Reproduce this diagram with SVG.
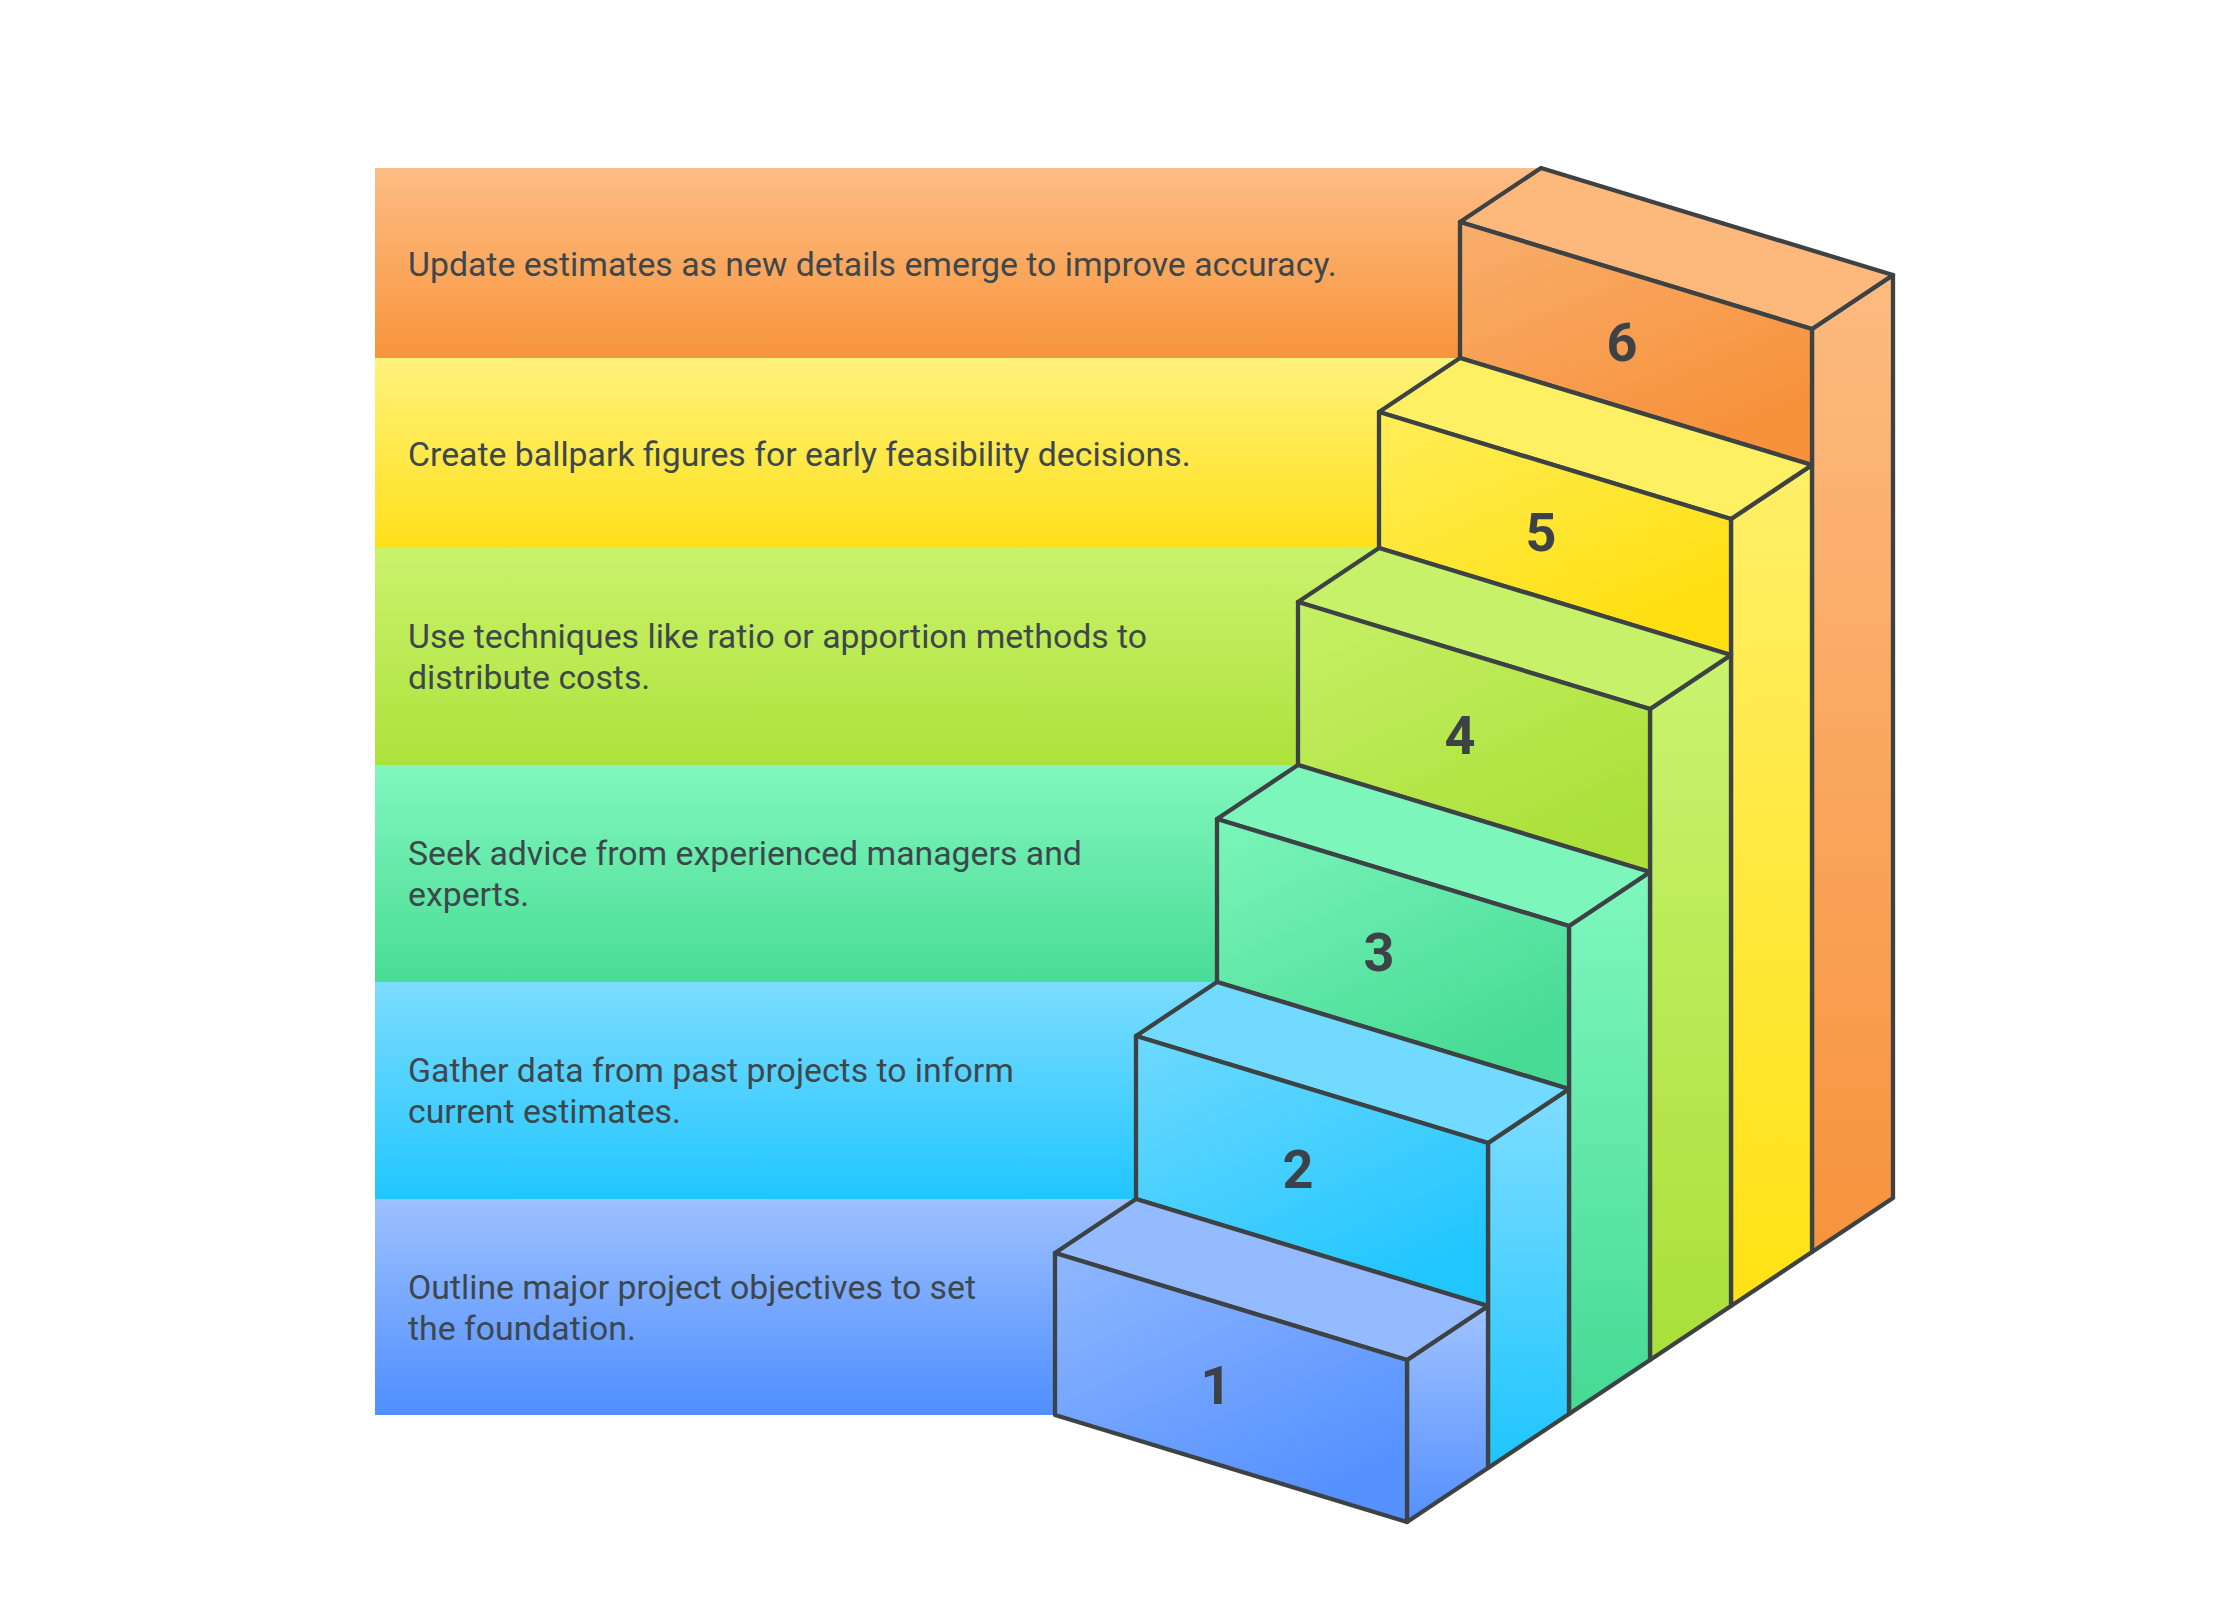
<svg xmlns="http://www.w3.org/2000/svg" width="2223" height="1620" viewBox="0 0 2223 1620">
<style>
.lbl{font-family:Roboto,"Liberation Sans",Arial,sans-serif;font-size:33.8px;fill:#3e474b}
.num{font-family:Roboto,"Liberation Sans",Arial,sans-serif;font-size:54px;font-weight:700;fill:#3d4246;text-anchor:middle}
.edge{stroke:#3d4244;stroke-width:4.3;stroke-linejoin:round}
</style>
<defs>
<linearGradient id="b6" x1="0" y1="0" x2="0" y2="1"><stop offset="0" stop-color="#fdbd84"/><stop offset="1" stop-color="#f7943c"/></linearGradient>
<linearGradient id="b5" x1="0" y1="0" x2="0" y2="1"><stop offset="0" stop-color="#fff27c"/><stop offset="1" stop-color="#ffe01a"/></linearGradient>
<linearGradient id="b4" x1="0" y1="0" x2="0" y2="1"><stop offset="0" stop-color="#caf26c"/><stop offset="1" stop-color="#ade23c"/></linearGradient>
<linearGradient id="b3" x1="0" y1="0" x2="0" y2="1"><stop offset="0" stop-color="#80f7bd"/><stop offset="1" stop-color="#49dc96"/></linearGradient>
<linearGradient id="b2" x1="0" y1="0" x2="0" y2="1"><stop offset="0" stop-color="#7cdcff"/><stop offset="1" stop-color="#20c6ff"/></linearGradient>
<linearGradient id="b1" x1="0" y1="0" x2="0" y2="1"><stop offset="0" stop-color="#9dc0ff"/><stop offset="1" stop-color="#4f8fff"/></linearGradient>

<linearGradient id="f6" x1="0" y1="0" x2="0.6" y2="1"><stop offset="0" stop-color="#f9ae6c"/><stop offset="1" stop-color="#f7913a"/></linearGradient>
<linearGradient id="f5" x1="0" y1="0" x2="0.6" y2="1"><stop offset="0" stop-color="#ffee58"/><stop offset="1" stop-color="#ffdf10"/></linearGradient>
<linearGradient id="f4" x1="0" y1="0" x2="0.6" y2="1"><stop offset="0" stop-color="#c6f066"/><stop offset="1" stop-color="#abe13a"/></linearGradient>
<linearGradient id="f3" x1="0" y1="0" x2="0.6" y2="1"><stop offset="0" stop-color="#7cf5bb"/><stop offset="1" stop-color="#47db95"/></linearGradient>
<linearGradient id="f2" x1="0" y1="0" x2="0.6" y2="1"><stop offset="0" stop-color="#6ed9ff"/><stop offset="1" stop-color="#22c6ff"/></linearGradient>
<linearGradient id="f1" x1="0" y1="0" x2="0.6" y2="1"><stop offset="0" stop-color="#8fb7ff"/><stop offset="1" stop-color="#5591ff"/></linearGradient>

<linearGradient id="s6" x1="0" y1="0" x2="0" y2="1"><stop offset="0" stop-color="#fdbb80"/><stop offset="1" stop-color="#f7933d"/></linearGradient>
<linearGradient id="s5" x1="0" y1="0" x2="0" y2="1"><stop offset="0" stop-color="#ffef68"/><stop offset="1" stop-color="#ffe214"/></linearGradient>
<linearGradient id="s4" x1="0" y1="0" x2="0" y2="1"><stop offset="0" stop-color="#c9f36e"/><stop offset="1" stop-color="#a9e03a"/></linearGradient>
<linearGradient id="s3" x1="0" y1="0" x2="0" y2="1"><stop offset="0" stop-color="#7ff7bf"/><stop offset="1" stop-color="#45da94"/></linearGradient>
<linearGradient id="s2" x1="0" y1="0" x2="0" y2="1"><stop offset="0" stop-color="#7fddff"/><stop offset="1" stop-color="#1ec5ff"/></linearGradient>
<linearGradient id="s1" x1="0" y1="0" x2="0" y2="1"><stop offset="0" stop-color="#a0c2ff"/><stop offset="1" stop-color="#5590ff"/></linearGradient>
</defs>
<rect width="2223" height="1620" fill="#ffffff"/>

<g id="step-6">
<rect x="375" y="168" width="1166" height="190" fill="url(#b6)"/>
<text class="lbl" x="408" y="276">Update estimates as new details emerge to improve accuracy.</text>
<polygon class="edge" fill="url(#s6)" points="1812,329 1893,275 1893,1198 1812,1252"/>
<polygon class="edge" fill="#fdb97c" points="1460,222 1541,168 1893,275 1812,329"/>
<polygon class="edge" fill="url(#f6)" points="1460,222 1812,329 1812,465 1460,358"/>
<text class="num" x="1622" y="361">6</text>
</g>

<g id="step-5">
<rect x="375" y="358" width="1085" height="190" fill="url(#b5)"/>
<text class="lbl" x="408" y="466">Create ballpark figures for early feasibility decisions.</text>
<polygon class="edge" fill="url(#s5)" points="1731,519 1812,465 1812,1252 1731,1306"/>
<polygon class="edge" fill="#ffef62" points="1379,412 1460,358 1812,465 1731,519"/>
<polygon class="edge" fill="url(#f5)" points="1379,412 1731,519 1731,655 1379,548"/>
<text class="num" x="1541" y="551">5</text>
</g>

<g id="step-4">
<rect x="375" y="548" width="1004" height="217" fill="url(#b4)"/>
<text class="lbl" x="408" y="648">Use techniques like ratio or apportion methods to</text>
<text class="lbl" x="408" y="689">distribute costs.</text>
<polygon class="edge" fill="url(#s4)" points="1650,709 1731,655 1731,1306 1650,1360"/>
<polygon class="edge" fill="#c6f168" points="1298,602 1379,548 1731,655 1650,709"/>
<polygon class="edge" fill="url(#f4)" points="1298,602 1650,709 1650,872 1298,765"/>
<text class="num" x="1460" y="754">4</text>
</g>

<g id="step-3">
<rect x="375" y="765" width="923" height="217" fill="url(#b3)"/>
<text class="lbl" x="408" y="865">Seek advice from experienced managers and</text>
<text class="lbl" x="408" y="906">experts.</text>
<polygon class="edge" fill="url(#s3)" points="1569,926 1650,872 1650,1360 1569,1414"/>
<polygon class="edge" fill="#7cf6bb" points="1217,819 1298,765 1650,872 1569,926"/>
<polygon class="edge" fill="url(#f3)" points="1217,819 1569,926 1569,1089 1217,982"/>
<text class="num" x="1379" y="971">3</text>
</g>

<g id="step-2">
<rect x="375" y="982" width="842" height="217" fill="url(#b2)"/>
<text class="lbl" x="408" y="1082">Gather data from past projects to inform</text>
<text class="lbl" x="408" y="1123">current estimates.</text>
<polygon class="edge" fill="url(#s2)" points="1488,1143 1569,1089 1569,1414 1488,1468"/>
<polygon class="edge" fill="#72daff" points="1136,1036 1217,982 1569,1089 1488,1143"/>
<polygon class="edge" fill="url(#f2)" points="1136,1036 1488,1143 1488,1306 1136,1199"/>
<text class="num" x="1298" y="1188">2</text>
</g>

<g id="step-1">
<rect x="375" y="1199" width="761" height="216" fill="url(#b1)"/>
<text class="lbl" x="408" y="1299">Outline major project objectives to set</text>
<text class="lbl" x="408" y="1340">the foundation.</text>
<polygon class="edge" fill="url(#s1)" points="1407,1360 1488,1306 1488,1468 1407,1522"/>
<polygon class="edge" fill="#94baff" points="1055,1253 1136,1199 1488,1306 1407,1360"/>
<polygon class="edge" fill="url(#f1)" points="1055,1253 1407,1360 1407,1522 1055,1415"/>
<text class="num" x="1216" y="1404">1</text>
</g>
</svg>
